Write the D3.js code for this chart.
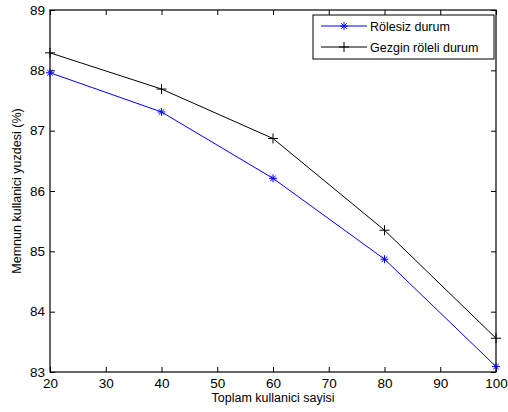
<!DOCTYPE html>
<html>
<head>
<meta charset="utf-8">
<script src="https://cdn.jsdelivr.net/npm/d3@7"></script>
<style>
  body { margin: 0; background: #fff; }
  svg { font-family: "Liberation Sans", Arial, sans-serif; }
</style>
</head>
<body>
<svg id="chart" width="508" height="412"></svg>
<script>
// veriler
const users = [20, 40, 60, 80, 100];
const roleless = [87.96, 87.31, 86.21, 84.87, 83.09];
const mobileRelay = [88.29, 87.69, 86.87, 85.35, 83.56];
const xTicks = [20, 30, 40, 50, 60, 70, 80, 90, 100];
const yTicks = [83, 84, 85, 86, 87, 88, 89];

const svg = d3.select("#chart");
const margin = { top: 10, right: 12, bottom: 40, left: 50 };
const width = 508 - margin.left - margin.right;
const height = 412 - margin.top - margin.bottom;

const g = svg.append("g").attr("transform", `translate(${margin.left},${margin.top})`);

const x = d3.scaleLinear().domain([20, 100]).range([0, width]);
const y = d3.scaleLinear().domain([83, 89]).range([height, 0]);

// eksenler (içe dönük tikler)
const styleAxis = sel => {
  sel.select(".domain").remove();
  sel.selectAll("line").attr("stroke", "#000").attr("stroke-width", 1);
  sel.selectAll("text").attr("fill", "#000").style("font-size", "13.5px");
};

g.append("g").attr("transform", `translate(0,${height})`)
  .call(d3.axisBottom(x).tickValues(xTicks).tickSizeInner(-5).tickSizeOuter(0).tickPadding(6).tickFormat(d3.format("d")))
  .call(styleAxis);
g.append("g")
  .call(d3.axisLeft(y).tickValues(yTicks).tickSizeInner(-5).tickSizeOuter(0).tickPadding(5).tickFormat(d3.format("d")))
  .call(styleAxis);
g.append("g")
  .call(d3.axisTop(x).tickValues(xTicks).tickSizeInner(-5).tickSizeOuter(0).tickFormat(""))
  .call(styleAxis);
g.append("g").attr("transform", `translate(${width},0)`)
  .call(d3.axisRight(y).tickValues(yTicks).tickSizeInner(-5).tickSizeOuter(0).tickFormat(""))
  .call(styleAxis);

g.append("rect").attr("width", width).attr("height", height)
  .attr("fill", "none").attr("stroke", "#000").attr("stroke-width", 1.2);

const line = d3.line().x((d, i) => x(users[i])).y(d => y(d));

function star(sel, c) {
  const r = 4;
  sel.each(function () {
    const s = d3.select(this);
    [[-r, 0, r, 0], [0, -r, 0, r], [-r * 0.7, -r * 0.7, r * 0.7, r * 0.7], [-r * 0.7, r * 0.7, r * 0.7, -r * 0.7]]
      .forEach(p => s.append("line").attr("x1", p[0]).attr("y1", p[1]).attr("x2", p[2]).attr("y2", p[3])
        .attr("stroke", c).attr("stroke-width", 1));
  });
}
function plus(sel, c) {
  const r = 5;
  sel.each(function () {
    const s = d3.select(this);
    [[-r, 0, r, 0], [0, -r, 0, r]]
      .forEach(p => s.append("line").attr("x1", p[0]).attr("y1", p[1]).attr("x2", p[2]).attr("y2", p[3])
        .attr("stroke", c).attr("stroke-width", 1));
  });
}

g.append("path").datum(roleless).attr("fill", "none").attr("stroke", "#0000ff").attr("stroke-width", 1).attr("d", line);
g.append("path").datum(mobileRelay).attr("fill", "none").attr("stroke", "#000").attr("stroke-width", 1).attr("d", line);

g.selectAll(".m1").data(roleless).join("g")
  .attr("transform", (d, i) => `translate(${x(users[i])},${y(d)})`).call(star, "#0000ff");
g.selectAll(".m2").data(mobileRelay).join("g")
  .attr("transform", (d, i) => `translate(${x(users[i])},${y(d)})`).call(plus, "#000");

// lejant
const leg = svg.append("g").attr("transform", "translate(313,15)");
leg.append("rect").attr("width", 181).attr("height", 44).attr("fill", "#fff").attr("stroke", "#000").attr("stroke-width", 1);
const items = [["Rölesiz durum", "#0000ff", star], ["Gezgin röleli durum", "#000", plus]];
items.forEach((it, i) => {
  const yy = 11 + i * 21;
  leg.append("line").attr("x1", 8).attr("x2", 54).attr("y1", yy).attr("y2", yy).attr("stroke", it[1]);
  leg.append("g").attr("transform", `translate(31,${yy})`).call(it[2], it[1]);
  leg.append("text").attr("x", 57).attr("y", yy + 4.5).style("font-size", "12.5px").text(it[0]);
});

// eksen başlıkları
svg.append("text").attr("x", margin.left + width / 2).attr("y", 402)
  .attr("text-anchor", "middle").style("font-size", "12.5px").text("Toplam kullanici sayisi");
svg.append("text").attr("transform", `translate(21,${margin.top + height / 2}) rotate(-90)`)
  .attr("text-anchor", "middle").style("font-size", "12.5px").text("Memnun kullanici yuzdesi (%)");
</script>
</body>
</html>
